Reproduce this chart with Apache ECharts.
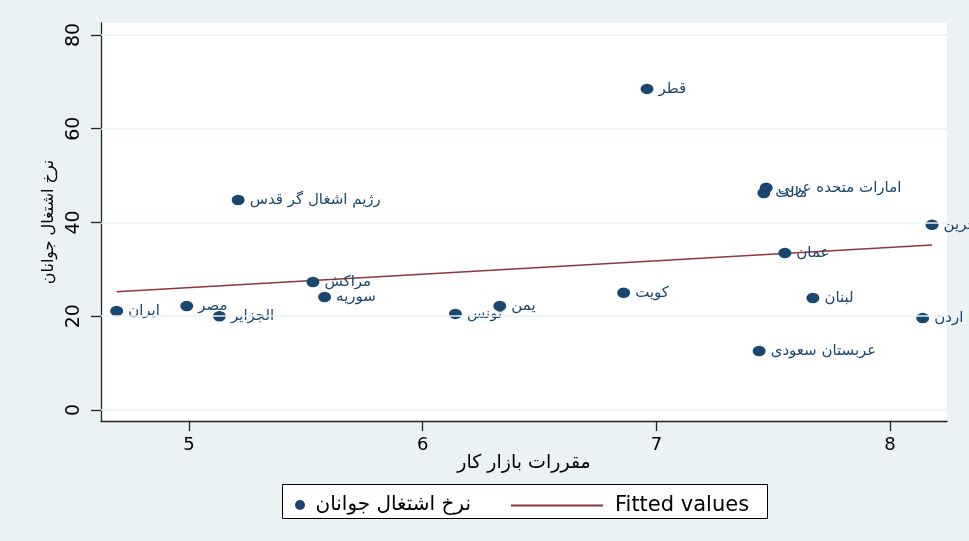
<!DOCTYPE html>
<html>
<head>
<meta charset="utf-8">
<script src="https://cdn.jsdelivr.net/npm/echarts@6/dist/echarts.min.js"></script>
<style>html,body{margin:0;padding:0;background:#eaf2f3;}#c{width:969px;height:541px;}</style>
</head>
<body>
<div id="c"></div>
<script>
const countries = ['ایران','مصر','الجزایر','رژیم اشغال گر قدس','مراکش','سوریه','تونس','یمن','کویت','قطر','امارات متحده عربی','مالت','عمان','لبنان','عربستان سعودی','اردن','بحرین'];
const regulation = [4.69,4.99,5.13,5.21,5.53,5.58,6.14,6.33,6.86,6.96,7.47,7.46,7.55,7.67,7.44,8.14,8.18];
const youthEmployment = [21.1,22.2,20.0,44.8,27.3,24.1,20.5,22.2,25.0,68.5,47.4,46.3,33.5,23.9,12.6,19.6,39.5];
const fittedX = [4.69, 8.18];
const fittedY = [25.2, 35.2];
const xTicks = [5,6,7,8];
const yTicks = [0,20,40,60,80];
const seriesNames = ['نرخ اشتغال جوانان','Fitted values'];
const xTitle = 'مقررات بازار کار';
const yTitle = 'نرخ اشتغال جوانان';

const navy = '#1a476f', maroon = '#90353b', bg = '#eaf2f3';
const FONT = "'DejaVu Sans', 'Liberation Sans', sans-serif";

const chart = echarts.init(document.getElementById('c'), null, {renderer:'canvas'});
chart.setOption({
  backgroundColor: bg,
  animation: false,
  grid: {left:101, right:22, top:23, bottom:120, show:true, backgroundColor:'#ffffff', borderWidth:0},
  xAxis: {
    type:'value', min:4.623, max:8.244,
    name: xTitle, nameLocation:'middle', nameGap:33, nameMoveOverlap:false,
    nameTextStyle:{fontFamily:FONT, fontSize:19, color:'#000'},
    axisLine:{show:true, onZero:false, lineStyle:{color:'#222', width:1.3}},
    axisTick:{show:true, length:10, customValues:xTicks, lineStyle:{color:'#222', width:1.3}},
    axisLabel:{customValues:xTicks, margin:15, fontFamily:FONT, fontSize:18, color:'#000'},
    splitLine:{show:false}
  },
  yAxis: {
    type:'value', min:-2.35, max:82.56,
    name: yTitle, nameLocation:'middle', nameGap:52, nameRotate:90,
    nameTextStyle:{fontFamily:FONT, fontSize:16, color:'#000', verticalAlign:'middle'},
    axisLine:{show:true, onZero:false, lineStyle:{color:'#222', width:1.3}},
    axisTick:{show:true, length:10, customValues:yTicks, lineStyle:{color:'#222', width:1.3}},
    axisLabel:{customValues:yTicks, rotate:90, margin:17, fontFamily:FONT, fontSize:19, color:'#000'},
    splitLine:{show:false}
  },
  legend: [
    {data:[seriesNames[0]], left:290, top:490, itemWidth:13, itemHeight:10, itemGap:0,
     textStyle:{fontFamily:FONT, fontSize:20, color:'#000', padding:[0,0,0,4]}, selectedMode:false, z:10},
    {data:[{name:seriesNames[1], icon:'rect'}], left:506, top:490, itemWidth:92, itemHeight:2,
     textStyle:{fontFamily:FONT, fontSize:21, color:'#000', padding:[0,0,0,7]}, selectedMode:false, z:10}
  ],
  graphic: [
    {type:'rect', left:282, top:484, z:1, shape:{width:485, height:34}, style:{fill:'#fff', stroke:'#000', lineWidth:1}}
  ],
  series: [
    {
      name:'grid', type:'line', data:[], silent:true, z:1,
      markLine:{silent:true, symbol:['none','none'], label:{show:false},
        lineStyle:{color:bg, width:1.5, type:'solid'},
        data: yTicks.map(v => ({yAxis:v}))}
    },
    {
      name: seriesNames[1], type:'line', z:2,
      data: fittedX.map((x,i)=>[x, fittedY[i]]),
      symbol:'none', showSymbol:false,
      lineStyle:{color:maroon, width:1.5}, itemStyle:{color:maroon}
    },
    {
      name: seriesNames[0], type:'scatter', z:3,
      symbol:'circle', symbolSize:[13,10.5],
      itemStyle:{color:navy, opacity:1},
      data: regulation.map((x,i)=>({value:[x, youthEmployment[i]], name:countries[i]})),
      label:{show:true, position:'right', distance:5, formatter:p=>p.name,
        fontFamily:FONT, fontSize:15, color:navy}
    }
  ]
});
</script>
</body>
</html>
